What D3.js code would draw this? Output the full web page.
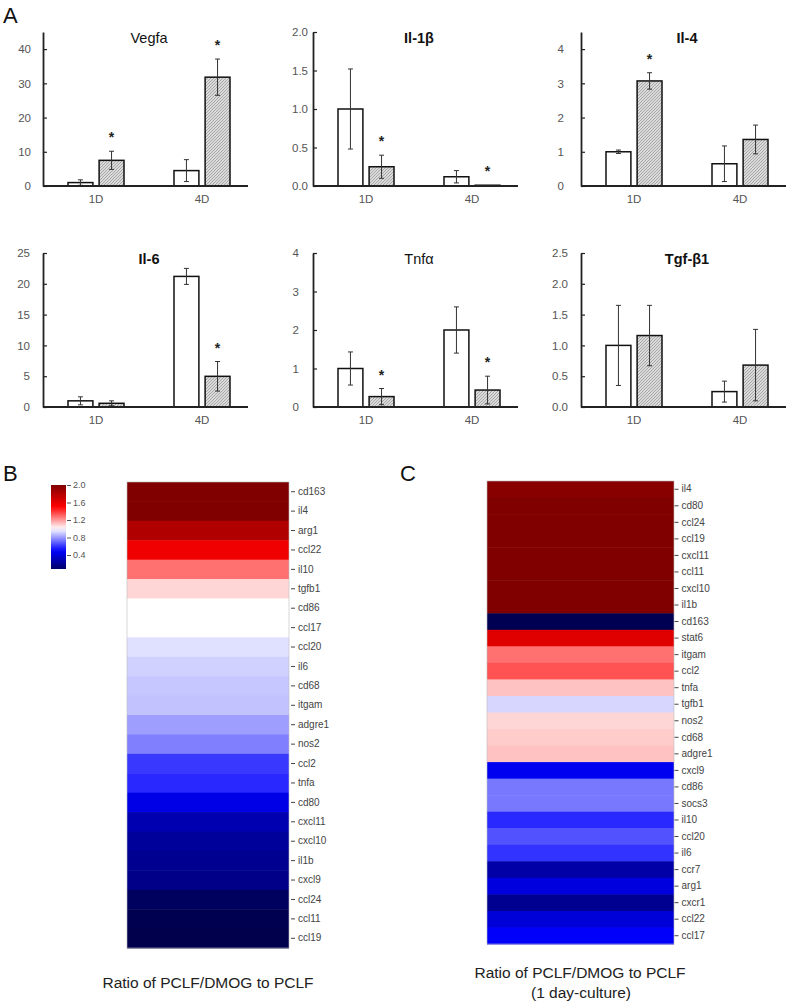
<!DOCTYPE html>
<html><head><meta charset="utf-8">
<script src="https://cdn.jsdelivr.net/npm/d3@7/dist/d3.min.js"></script>
<style>
body{margin:0;background:#fff;}
svg{display:block;font-family:Arial,"Liberation Sans",sans-serif;}
</style></head>
<body><svg id="c" width="798" height="1005"></svg>
<script>
// ---------- DATA ----------
const groups = ['1D','4D'];
const series = ['PCLF','PCLF/DMOG'];
const genes = ['Vegfa','Il-1β','Il-4','Il-6','Tnfα','Tgf-β1'];
const yMax = [45, 2, 4.5, 25, 4, 2.5];
const yTicks = [[0,10,20,30,40],[0,0.5,1.0,1.5,2.0],[0,1,2,3,4],[0,5,10,15,20,25],[0,1,2,3,4],[0,0.5,1.0,1.5,2.0,2.5]];
const meanPCLF = [[1.0,4.5],[1.0,0.12],[1.0,0.65],[1.0,21.2],[1.0,2.0],[1.0,0.25]];
const errPCLF  = [[0.8,3.2],[0.52,0.08],[0.05,0.52],[0.65,1.3],[0.43,0.6],[0.65,0.17]];
const meanDMOG = [[7.5,31.8],[0.25,0.01],[3.07,1.36],[0.6,4.98],[0.27,0.44],[1.16,0.68]];
const errDMOG  = [[2.65,5.3],[0.15,0],[0.24,0.42],[0.4,2.4],[0.21,0.36],[0.49,0.58]];
const sigDMOG  = [[1,1],[1,1],[1,0],[0,1],[1,1],[0,0]];

const genesB = ['cd163','il4','arg1','ccl22','il10','tgfb1','cd86','ccl17','ccl20','il6','cd68','itgam','adgre1','nos2','ccl2','tnfa','cd80','cxcl11','cxcl10','il1b','cxcl9','ccl24','ccl11','ccl19'];
const ratioB = [2.1,2.0,1.81,1.56,1.28,1.08,1.0,1.0,0.94,0.91,0.89,0.88,0.81,0.75,0.61,0.58,0.43,0.28,0.22,0.19,0.17,0.05,0.01,0.0];

const genesC = ['il4','cd80','ccl24','ccl19','cxcl11','ccl11','cxcl10','il1b','cd163','stat6','itgam','ccl2','tnfa','tgfb1','nos2','cd68','adgre1','cxcl9','cd86','socs3','il10','ccl20','il6','ccr7','arg1','cxcr1','ccl22','ccl17'];
const ratioC = [1.97,2.5,2.5,2.4,2.3,2.3,2.2,2.1,0.02,1.62,1.28,1.34,1.12,0.92,1.08,1.1,1.12,0.46,0.735,0.735,0.58,0.66,0.6,0.25,0.41,0.19,0.39,0.49];

const legendTicks = [0.4,0.8,1.2,1.6,2.0];
const legendRange = [0.08, 2.0];

// ---------- DRAW ----------
const svg = d3.select('#c');
const defs = svg.append('defs');
const pat = defs.append('pattern').attr('id','hatch').attr('patternUnits','userSpaceOnUse').attr('width',3).attr('height',3);
pat.append('rect').attr('width',3).attr('height',3).attr('fill','#dadada');
pat.append('path').attr('d','M-1,1 L1,-1 M0,3 L3,0 M2,4 L4,2').attr('stroke','#9c9c9c').attr('stroke-width',0.8);

const font = 'Arial,"Liberation Sans",sans-serif';
svg.append('text').attr('x',3).attr('y',23).attr('font-size',22).attr('fill','#111').text('A');
svg.append('text').attr('x',3).attr('y',481).attr('font-size',22).attr('fill','#111').text('B');
svg.append('text').attr('x',400).attr('y',481).attr('font-size',22).attr('fill','#111').text('C');

const axisX = [43, 313, 581];
const rowTop = [32, 253], rowBase = [186, 407];
const padY = [12,5,17,13,14,13];
const boldTitle = new Set(['Il-1β','Il-4','Il-6','Tgf-β1']);

genes.forEach((g, i) => {
  const col = i % 3, row = Math.floor(i / 3);
  const gx = svg.append('g').attr('transform', `translate(${axisX[col]},0)`);
  const y = d3.scaleLinear().domain([0, yMax[i]]).range([rowBase[row], rowTop[row]]);
  const x0 = d3.scaleBand().domain(groups).range([0, 212]);
  const x1 = d3.scaleBand().domain(series).range([x0.bandwidth()/2 - 28, x0.bandwidth()/2 + 28]).paddingInner(0.2);
  const decimals = (i === 1 || i === 5);

  const recs = [];
  groups.forEach((grp, j) => {
    recs.push({grp, s: series[0], m: meanPCLF[i][j], e: errPCLF[i][j], sig: 0});
    recs.push({grp, s: series[1], m: meanDMOG[i][j], e: errDMOG[i][j], sig: sigDMOG[i][j]});
  });

  gx.selectAll('rect.bar').data(recs).join('rect')
    .attr('x', d => x0(d.grp) + x1(d.s))
    .attr('width', x1.bandwidth())
    .attr('y', d => y(d.m))
    .attr('height', d => y(0) - y(d.m))
    .attr('fill', d => d.s === series[0] ? '#fff' : 'url(#hatch)')
    .attr('stroke', '#111').attr('stroke-width', 1.5);

  const eb = gx.selectAll('g.eb').data(recs.filter(d => d.e > 0)).join('g')
    .attr('stroke', '#333').attr('stroke-width', 1);
  eb.append('line')
    .attr('x1', d => x0(d.grp) + x1(d.s) + x1.bandwidth()/2)
    .attr('x2', d => x0(d.grp) + x1(d.s) + x1.bandwidth()/2)
    .attr('y1', d => y(d.m + d.e)).attr('y2', d => y(Math.max(0, d.m - d.e)));
  [d => d.m + d.e, d => Math.max(0, d.m - d.e)].forEach(f => {
    eb.append('line')
      .attr('x1', d => x0(d.grp) + x1(d.s) + x1.bandwidth()/2 - 2.5)
      .attr('x2', d => x0(d.grp) + x1(d.s) + x1.bandwidth()/2 + 2.5)
      .attr('y1', d => y(f(d))).attr('y2', d => y(f(d)));
  });

  gx.selectAll('text.star').data(recs.filter(d => d.sig)).join('text')
    .attr('x', d => x0(d.grp) + x1(d.s) + x1.bandwidth()/2)
    .attr('y', d => y(d.m + d.e) - 9)
    .attr('text-anchor', 'middle').attr('font-size', 14).attr('font-weight', 'bold').attr('fill', '#222')
    .text('*');

  // axes
  const ya = gx.append('g').call(d3.axisLeft(y).tickValues(yTicks[i]).tickSize(-4).tickSizeOuter(0).tickPadding(padY[i])
      .tickFormat(decimals ? d3.format('.1f') : d3.format('d')));
  ya.select('.domain').attr('stroke', '#222').attr('stroke-width', 1.8);
  ya.selectAll('.tick line').attr('stroke', '#222').attr('stroke-width', 1.2);
  ya.selectAll('.tick text').attr('font-size', 11.5).attr('fill', '#555').attr('font-family', font);

  gx.append('line').attr('x1', 0).attr('x2', 205).attr('y1', y(0)).attr('y2', y(0))
    .attr('stroke', '#222').attr('stroke-width', 1.8);
  gx.selectAll('text.xl').data(groups).join('text')
    .attr('x', d => x0(d) + x0.bandwidth()/2).attr('y', y(0) + 17)
    .attr('text-anchor', 'middle').attr('font-size', 11.5).attr('fill', '#555').text(d => d);

  gx.append('text').attr('x', 106).attr('y', rowTop[row] + 11)
    .attr('text-anchor', 'middle').attr('font-size', 14.5)
    .attr('font-weight', boldTitle.has(g) ? 'bold' : 'normal').attr('fill', '#111').text(g);
});

// ---------- HEATMAPS ----------
const seismic = d3.scaleLinear().domain([0, 0.5, 1, 1.5, 2])
  .range(['#00004c', '#0000ff', '#ffffff', '#ff0000', '#800000']).clamp(true);

function heat(genesArr, vals, x0, x1, y0, y1, axX) {
  const yb = d3.scaleBand().domain(genesArr).range([y0, y1]);
  const g = svg.append('g');
  g.selectAll('rect').data(genesArr).join('rect')
    .attr('x', x0).attr('width', x1 - x0)
    .attr('y', d => yb(d)).attr('height', yb.bandwidth() + 0.5)
    .attr('fill', (d, k) => seismic(vals[k]));
  g.append('rect').attr('x', x0).attr('y', y0).attr('width', x1 - x0).attr('height', y1 - y0)
    .attr('fill', 'none').attr('stroke', '#bbb').attr('stroke-width', 0.6);
  const a = svg.append('g').attr('transform', `translate(${axX},0)`)
    .call(d3.axisRight(yb).tickSize(4).tickPadding(3));
  a.select('.domain').remove();
  a.selectAll('.tick line').attr('stroke', '#444');
  a.selectAll('.tick text').attr('font-size', 10).attr('fill', '#444').attr('font-family', font);
}
heat(genesB, ratioB, 127, 289, 482, 948, 291);
heat(genesC, ratioC, 487, 674, 481, 944, 674.5);

// legend
const lg = defs.append('linearGradient').attr('id', 'lgd').attr('x1', 0).attr('x2', 0).attr('y1', 1).attr('y2', 0);
d3.range(0, 1.0001, 0.05).forEach(t => {
  const v = legendRange[0] + t * (legendRange[1] - legendRange[0]);
  lg.append('stop').attr('offset', t).attr('stop-color', seismic(v));
});
const ly = d3.scaleLinear().domain(legendRange).range([569, 485]);
svg.append('rect').attr('x', 51).attr('y', 485).attr('width', 15).attr('height', 84).attr('fill', 'url(#lgd)');
const la = svg.append('g').attr('transform', 'translate(67,0)')
  .call(d3.axisRight(ly).tickValues(legendTicks).tickSize(4).tickPadding(2).tickFormat(d3.format('.1f')));
la.select('.domain').remove();
la.selectAll('.tick line').attr('stroke', '#555');
la.selectAll('.tick text').attr('font-size', 9).attr('fill', '#555').attr('font-family', font);

// captions
svg.append('text').attr('x', 208).attr('y', 988).attr('text-anchor', 'middle').attr('font-size', 15.5).attr('fill', '#222')
  .text('Ratio of PCLF/DMOG to PCLF');
svg.append('text').attr('x', 580).attr('y', 978).attr('text-anchor', 'middle').attr('font-size', 15.5).attr('fill', '#222')
  .text('Ratio of PCLF/DMOG to PCLF');
svg.append('text').attr('x', 581).attr('y', 998).attr('text-anchor', 'middle').attr('font-size', 15.5).attr('fill', '#222')
  .text('(1 day-culture)');
</script></body></html>
